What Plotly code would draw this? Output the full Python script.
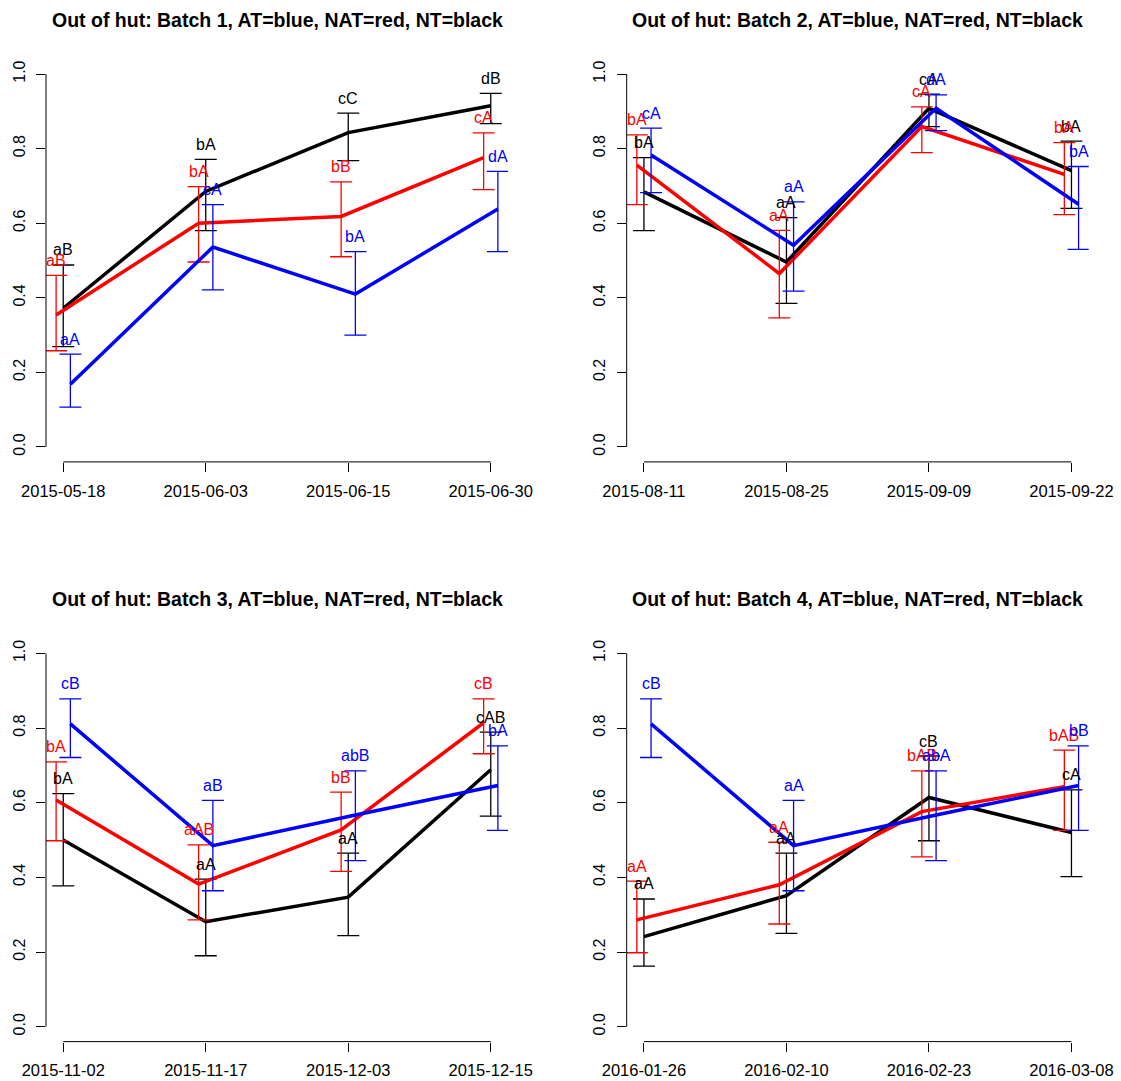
import plotly.graph_objects as go

# Survey dates for each batch
batch_dates = [
    ["2015-05-18", "2015-06-03", "2015-06-15", "2015-06-30"],
    ["2015-08-11", "2015-08-25", "2015-09-09", "2015-09-22"],
    ["2015-11-02", "2015-11-17", "2015-12-03", "2015-12-15"],
    ["2016-01-26", "2016-02-10", "2016-02-23", "2016-03-08"],
]

# NT (black): proportion, confidence limits and significance letters
nt_mean = [[0.372, 0.685, 0.843, 0.915], [0.684, 0.496, 0.908, 0.741],
           [0.500, 0.281, 0.347, 0.688], [0.241, 0.351, 0.614, 0.520]]
nt_low = [[0.269, 0.580, 0.768, 0.867], [0.580, 0.385, 0.859, 0.640],
          [0.377, 0.190, 0.244, 0.564], [0.162, 0.250, 0.498, 0.402]]
nt_high = [[0.488, 0.771, 0.895, 0.948], [0.776, 0.615, 0.946, 0.820],
           [0.624, 0.395, 0.465, 0.789], [0.342, 0.465, 0.725, 0.634]]
nt_letters = [["aB", "bA", "cC", "dB"], ["bA", "aA", "cA", "bA"],
              ["bA", "aA", "aA", "cAB"], ["aA", "aA", "cB", "cA"]]

# NAT (red)
nat_mean = [[0.354, 0.600, 0.618, 0.776], [0.756, 0.465, 0.859, 0.731],
            [0.607, 0.382, 0.527, 0.814], [0.286, 0.380, 0.576, 0.643]]
nat_low = [[0.258, 0.496, 0.510, 0.690], [0.650, 0.346, 0.789, 0.623],
           [0.498, 0.286, 0.416, 0.731], [0.198, 0.275, 0.455, 0.526]]
nat_high = [[0.460, 0.698, 0.711, 0.842], [0.837, 0.581, 0.912, 0.816],
            [0.709, 0.487, 0.628, 0.878], [0.390, 0.494, 0.685, 0.741]]
nat_letters = [["aB", "bA", "bB", "cA"], ["bA", "aA", "cA", "bA"],
               ["bA", "aAB", "bB", "cB"], ["aA", "aA", "bAB", "bAB"]]

# AT (blue)
at_mean = [[0.168, 0.536, 0.410, 0.638], [0.783, 0.541, 0.908, 0.651],
           [0.811, 0.485, 0.567, 0.646], [0.811, 0.485, 0.567, 0.646]]
at_low = [[0.107, 0.421, 0.300, 0.524], [0.682, 0.418, 0.848, 0.530],
          [0.721, 0.364, 0.445, 0.526], [0.721, 0.364, 0.445, 0.526]]
at_high = [[0.249, 0.650, 0.524, 0.739], [0.855, 0.657, 0.944, 0.752],
           [0.878, 0.606, 0.685, 0.752], [0.878, 0.606, 0.685, 0.752]]
at_letters = [["aA", "cA", "bA", "dA"], ["cA", "aA", "dA", "bA"],
              ["cB", "aB", "abB", "bA"], ["cB", "aA", "abA", "bB"]]

y_ticks = [0.0, 0.2, 0.4, 0.6, 0.8, 1.0]

W, H = 1121, 1081
FONT = "Liberation Sans, Arial, sans-serif"

# panel plot regions in pixels: (left, right, top, bottom)
regions = [(46, 508, 59.1, 461.9), (626.7, 1088.7, 59.1, 461.9),
           (46, 508, 638.4, 1041.6), (626.7, 1088.7, 638.4, 1041.6)]

# draw order: NT, NAT, AT; each series is nudged sideways a little
series = [
    ("NT", "black", 0.0, nt_mean, nt_low, nt_high, nt_letters),
    ("NAT", "red", -0.05, nat_mean, nat_low, nat_high, nat_letters),
    ("AT", "blue", 0.05, at_mean, at_low, at_high, at_letters),
]

fig = go.Figure()
annotations = []
shapes = []

for b in range(4):
    xa = "x" if b == 0 else f"x{b + 1}"
    ya = "y" if b == 0 else f"y{b + 1}"
    n = len(batch_dates[b])
    pos = list(range(1, n + 1))
    for name, col, off, mean, low, high, letters in series:
        xs = [p + off for p in pos]
        m = mean[b]
        fig.add_trace(go.Scatter(
            x=xs, y=m, mode="lines", name=name, showlegend=False,
            xaxis=xa, yaxis=ya,
            line=dict(color=col, width=3.5),
            error_y=dict(type="data", symmetric=False,
                         array=[h - v for h, v in zip(high[b], m)],
                         arrayminus=[v - l for v, l in zip(m, low[b])],
                         color=col, thickness=1.3, width=11),
        ))
        for xv, hv, lab in zip(xs, high[b], letters[b]):
            annotations.append(dict(
                x=xv, y=hv, xref=xa, yref=ya, text=lab, showarrow=False,
                yshift=15, xanchor="center", yanchor="middle",
                font=dict(family=FONT, size=16, color=col)))

    left, right, top, bottom = regions[b]
    axis_suffix = "" if b == 0 else str(b + 1)
    fig.layout["xaxis" + axis_suffix] = dict(
        domain=[left / W, right / W], anchor=ya, range=[0.879, 4.121],
        automargin=False,
        tickmode="array", tickvals=pos, ticktext=batch_dates[b],
        ticks="outside", ticklen=9, tickwidth=1, tickcolor="black",
        ticklabelstandoff=5,
        showline=False, showgrid=False, zeroline=False,
        tickfont=dict(family=FONT, size=16.5, color="black"))
    fig.layout["yaxis" + axis_suffix] = dict(
        domain=[1 - bottom / H, 1 - top / H], anchor=xa, range=[-0.04, 1.04],
        automargin=False,
        tickmode="array", tickvals=y_ticks,
        ticktext=[f"{v:.1f}" for v in y_ticks], tickangle=-90,
        ticks="outside", ticklen=9, tickwidth=1, tickcolor="black",
        ticklabelstandoff=5,
        showline=False, showgrid=False, zeroline=False,
        tickfont=dict(family=FONT, size=16, color="black"))

    # R-style axis lines spanning only the tick range
    shapes.append(dict(type="line", xref=xa, yref=ya + " domain",
                       x0=pos[0], x1=pos[-1], y0=0, y1=0,
                       line=dict(color="black", width=1)))
    shapes.append(dict(type="line", xref=xa + " domain", yref=ya,
                       x0=0, x1=0, y0=y_ticks[0], y1=y_ticks[-1],
                       line=dict(color="black", width=1)))

    annotations.append(dict(
        x=0.5, y=1, xref=xa + " domain", yref=ya + " domain",
        text=f"<b>Out of hut: Batch {b + 1}, AT=blue, NAT=red, NT=black</b>",
        showarrow=False, yshift=39.5, xanchor="center", yanchor="middle",
        font=dict(family=FONT, size=19.5, color="black")))

fig.update_layout(
    width=W, height=H, margin=dict(l=0, r=0, t=0, b=0, autoexpand=False),
    paper_bgcolor="white", plot_bgcolor="white",
    annotations=annotations, shapes=shapes, showlegend=False,
)

fig.write_html("out.html")
